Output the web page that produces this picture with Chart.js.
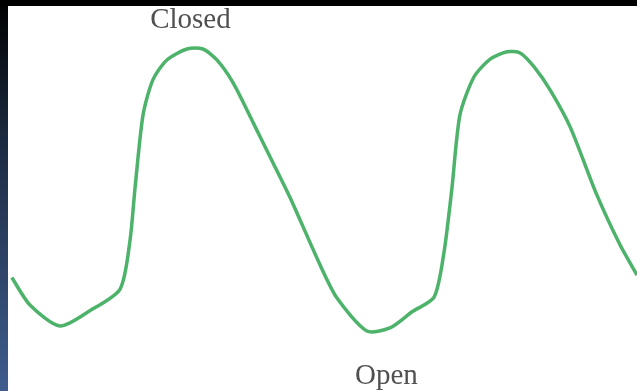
<!DOCTYPE html>
<html>
<head>
<meta charset="utf-8">
<script src="https://cdn.jsdelivr.net/npm/chart.js@4"></script>
<style>
  html, body { margin: 0; padding: 0; background: #000; }
  #wrap { position: relative; width: 637px; height: 391px; }
</style>
</head>
<body>
<div id="wrap"><canvas id="valve"></canvas></div>
<script>
// time (one cycle ~ 100 units) and valve position (0 = open, 100 = closed)
const times = [3.7, 9.4, 18.8, 28.3, 37.7, 40.8, 42.4, 44.9, 48.0, 52.4, 58.7, 63.7, 68.1, 73.2, 79.4, 85.7, 91.1, 100.5,
    105.8, 115.2, 122.4, 129.4, 136.3, 139.4, 141.9, 144.4, 148.8, 153.8, 159.2, 163.3, 167.7, 172.7, 179.0, 187.4, 194.7, 200];
const position = [18.0, 8.2, 0.7, 6.2, 13.9, 31.1, 50.0, 76.0, 88.6, 95.7, 99.6, 99.6, 95.7, 87.5, 73.5, 59.0, 46.5, 22.5,
    10.7, -1.1, 0, 5.8, 11.0, 27, 50.0, 76.0, 89.6, 95.9, 98.6, 98.2, 93.2, 85, 71.8, 47.5, 29.6, 18.9];
const labelClosed = 'Closed';
const labelOpen = 'Open';

const points = times.map((t, i) => ({ x: t, y: position[i] }));

// scanned-page look: black strip on top, blue strip on the left, white sheet
const backdrop = {
    id: 'backdrop',
    beforeDraw(chart) {
        const c = chart.ctx;
        const w = chart.width, h = chart.height;
        c.save();
        c.fillStyle = '#000';
        c.fillRect(0, 0, w, h);
        const g = c.createLinearGradient(0, 0, 0, h);
        g.addColorStop(0, '#000000');
        g.addColorStop(0.35, '#1c2a40');
        g.addColorStop(1, '#3f5d8e');
        c.fillStyle = g;
        c.fillRect(0, 6, 8, h - 6);
        c.fillStyle = '#fff';
        c.fillRect(8, 6, w - 8, h - 6);
        c.restore();
    }
};

// "Closed" above the first peak, "Open" below the second trough
const stateLabels = {
    id: 'stateLabels',
    afterDatasetsDraw(chart) {
        const c = chart.ctx;
        const xs = chart.scales.x, ys = chart.scales.y;
        c.save();
        c.font = '29px "Liberation Serif", "DejaVu Serif", serif';
        c.fillStyle = '#505050';
        c.textAlign = 'center';
        c.textBaseline = 'alphabetic';
        c.fillText(labelClosed, xs.getPixelForValue(59.8), ys.getPixelForValue(100) - 20);
        c.fillText(labelOpen, xs.getPixelForValue(121.3), ys.getPixelForValue(0) + 56);
        c.restore();
    }
};

new Chart(document.getElementById('valve'), {
    type: 'line',
    data: {
        datasets: [{
            data: points,
            borderColor: '#4db36a',
            borderWidth: 3.5,
            pointRadius: 0,
            fill: false,
            tension: 0.25
        }]
    },
    options: {
        responsive: true,
        maintainAspectRatio: false,
        animation: false,
        layout: { padding: 0 },
        plugins: { legend: { display: false }, tooltip: { enabled: false } },
        scales: {
            x: { type: 'linear', min: 0, max: 200, display: false },
            y: { min: -22.5, max: 117.1, display: false }
        }
    },
    plugins: [backdrop, stateLabels]
});
</script>
</body>
</html>
